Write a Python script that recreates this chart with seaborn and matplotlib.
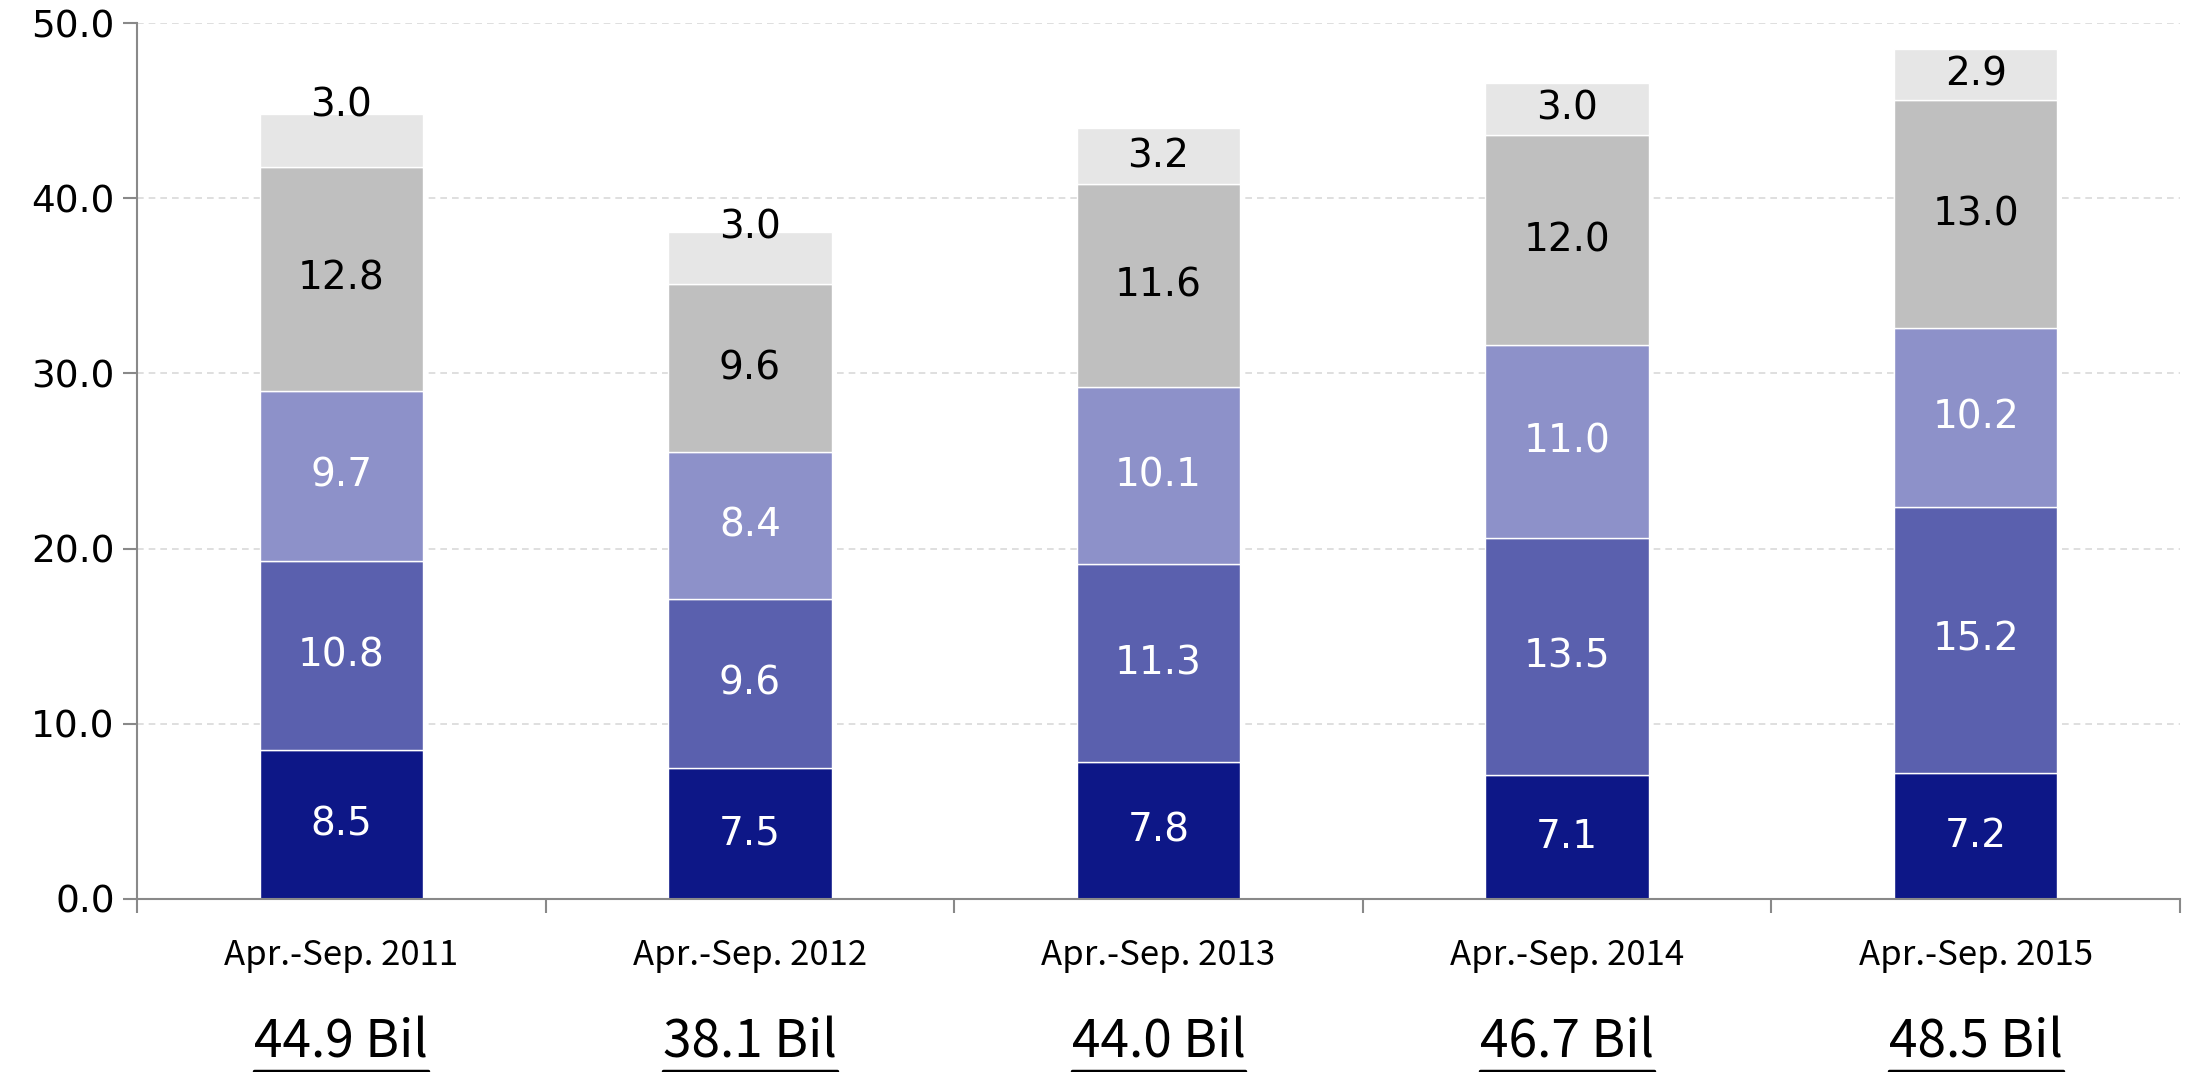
import numpy as np
import pandas as pd
import matplotlib
matplotlib.use("Agg")
import matplotlib.pyplot as plt
import matplotlib.transforms as mtransforms
from matplotlib.lines import Line2D
import seaborn as sns

# Half-year periods and the five stacked components (billions)
periods = ["Apr.-Sep. 2011", "Apr.-Sep. 2012", "Apr.-Sep. 2013",
           "Apr.-Sep. 2014", "Apr.-Sep. 2015"]
seg1 = [8.5, 7.5, 7.8, 7.1, 7.2]
seg2 = [10.8, 9.6, 11.3, 13.5, 15.2]
seg3 = [9.7, 8.4, 10.1, 11.0, 10.2]
seg4 = [12.8, 9.6, 11.6, 12.0, 13.0]
seg5 = [3.0, 3.0, 3.2, 3.0, 2.9]
totals = ["44.9 Bil", "38.1 Bil", "44.0 Bil", "46.7 Bil", "48.5 Bil"]
y_ticks = [0, 10, 20, 30, 40, 50]

segments = [seg1, seg2, seg3, seg4, seg5]
colors = ["#0D1787", "#5A60AE", "#8D91C9", "#BFBFBF", "#E6E6E6"]
text_colors = ["white", "white", "white", "black", "black"]

sns.set_theme(style="white")
plt.rcParams["font.family"] = ["Noto Sans CJK JP", "DejaVu Sans"]
num_font = ["DejaVu Sans"]

fig = plt.figure(figsize=(21.85, 10.72), dpi=100)
ax = fig.add_axes([0.0627, 0.1614, 0.9350, 0.8171])

bottoms = np.zeros(len(periods))
for k, seg in enumerate(segments):
    df = pd.DataFrame({"period": periods, "value": seg})
    sns.barplot(data=df, x="period", y="value", order=periods,
                color=colors[k], width=0.4, bottom=bottoms,
                edgecolor="white", linewidth=1.0, saturation=1.0, ax=ax)
    for i, v in enumerate(seg):
        yc = bottoms[i] + v / 2
        dy = 0
        # the thin top layer labels of the first two periods sit on the bar top
        if k == 4 and i in (0, 1):
            yc = bottoms[i] + v
            dy = 6 if i == 0 else 3
        ax.annotate(f"{v:.1f}", (i, yc), xytext=(0, dy), textcoords="offset points",
                    ha="center", va="center", fontsize=28, family=num_font,
                    color=text_colors[k])
    bottoms = bottoms + np.array(seg)

ax.set_xlim(-0.5, len(periods) - 0.5)
ax.set_ylim(0, 50)
ax.set_yticks(y_ticks)
ax.set_yticklabels([f"{t:.1f}" for t in y_ticks], fontsize=27, family=num_font)
ax.set_xlabel("")
ax.set_ylabel("")
ax.tick_params(axis="x", which="major", length=0, pad=28, labelsize=25,
               labelcolor="black")
ax.tick_params(axis="y", which="major", length=10, width=1.5, color="#898989",
               left=True, pad=6, labelcolor="black")
ax.set_xticks(np.arange(-0.5, len(periods)), minor=True)
ax.tick_params(axis="x", which="minor", length=10, width=1.5, color="#898989",
               bottom=True, direction="out")

ax.yaxis.grid(True, linestyle=(0, (4, 3)), color="#D9D9D9", linewidth=1.2)
ax.set_axisbelow(True)
for side in ["top", "right"]:
    ax.spines[side].set_visible(False)
for side in ["left", "bottom"]:
    ax.spines[side].set_color("#898989")
    ax.spines[side].set_linewidth(1.5)

# Period totals under the axis, underlined
trans = mtransforms.blended_transform_factory(ax.transData, ax.transAxes)
total_texts = []
for i, t in enumerate(totals):
    total_texts.append(ax.text(i, -0.164, t, transform=trans, ha="center",
                               va="center", fontsize=37, color="black"))

fig.savefig("out.png", dpi=100)
fig.canvas.draw()
renderer = fig.canvas.get_renderer()
for txt in total_texts:
    bb = txt.get_window_extent(renderer)
    y = bb.y0 - 2
    fig.add_artist(Line2D([bb.x0 / fig.bbox.width, bb.x1 / fig.bbox.width],
                          [y / fig.bbox.height, y / fig.bbox.height],
                          color="black", linewidth=2.5))
fig.savefig("out.png", dpi=100)
